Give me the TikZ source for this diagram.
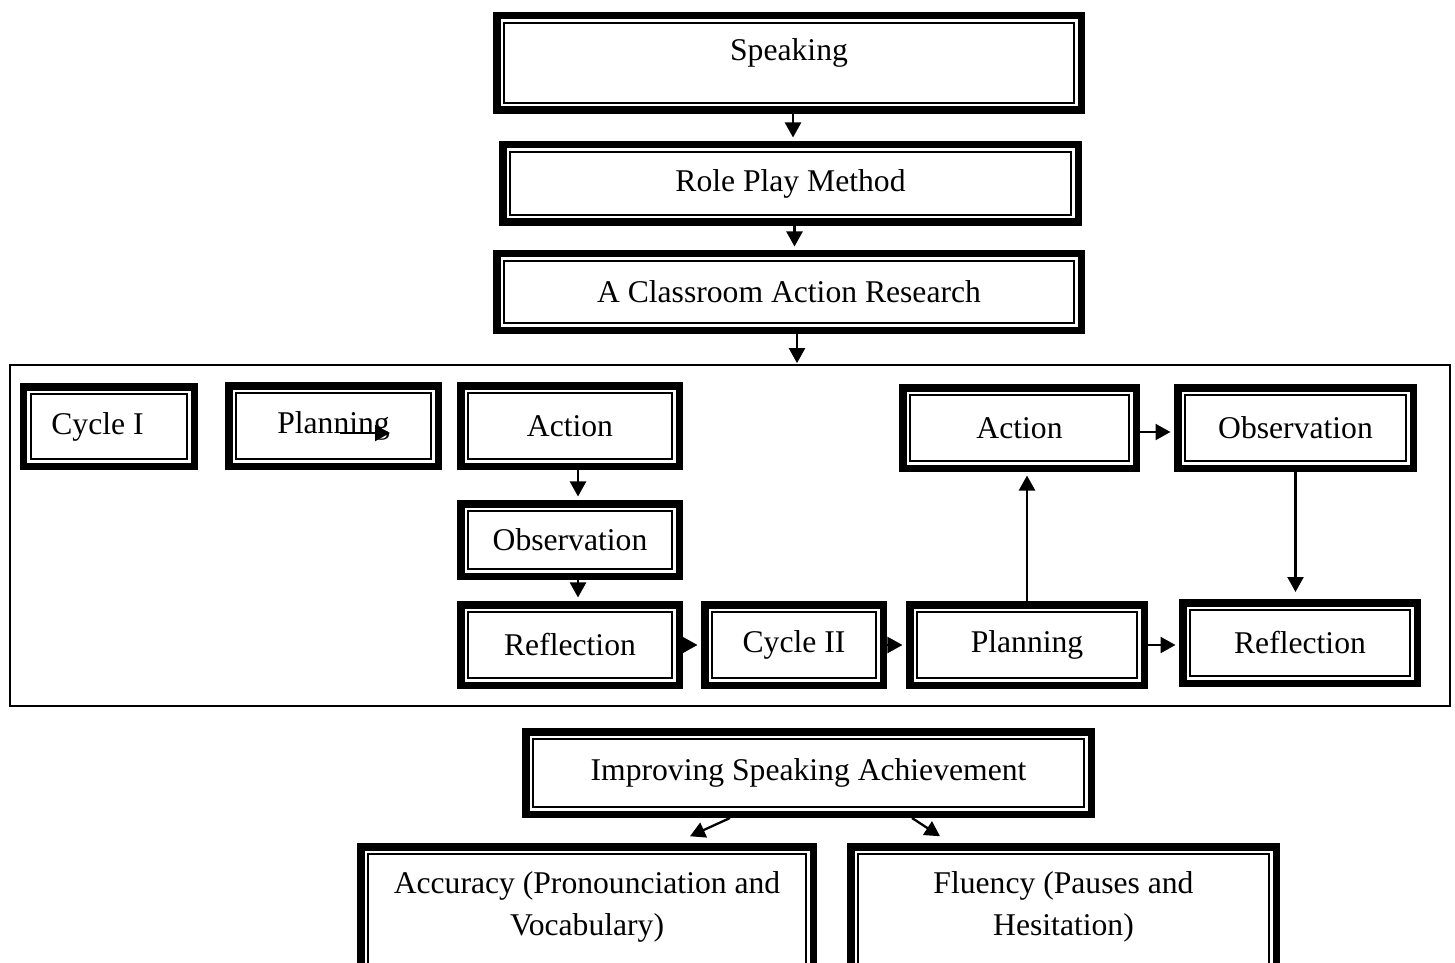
\documentclass[tikz,border=0pt]{standalone}
\usepackage{fontspec}
\setmainfont{Liberation Serif}
\usetikzlibrary{arrows.meta,calc,positioning}

\begin{document}
\begin{tikzpicture}
[-{Triangle[length=0.3cm,width=0.32cm]}, line width=1.3pt,
font=\fontsize{18}{24}\selectfont,
dbox/.style={draw, line width=0.15cm, inner sep=0pt,
path picture={\draw[-,line width=1.1pt]
($(path picture bounding box.south west)+(0.15cm,0.15cm)$) rectangle
($(path picture bounding box.north east)+(-0.15cm,-0.15cm)$);}},
wide/.style={dbox, minimum width=11.69cm, minimum height=#1},
step box/.style={dbox, minimum width=#1, minimum height=1.61cm}]
\path[use as bounding box, clip] (0,0) rectangle (29.1,-19.26);

\node (speak) at (15.78,-1.26) [wide=1.89cm, text depth=15.5pt] {Speaking};
\node (role) at (15.81,-3.67) [wide=1.55cm, minimum width=11.51cm] {Role Play Method};
\node (class) at (15.78,-5.84) [wide=1.53cm] {A Classroom Action Research};

\node (cycles) at (14.6,-10.71) [draw, -, line width=1.1pt, minimum width=28.8cm, minimum height=6.82cm] {};

\node (cyc1) at (2.18,-8.53) [step box=3.41cm, minimum height=1.59cm] {Cycle I\hspace*{0.46cm}};
\node (plan1) at (6.67,-8.52) [step box=4.19cm] {Planning};
\node (act1) at (11.40,-8.52) [step box=4.37cm] {Action};
\node (obs1) at (11.40,-10.80) [step box=4.37cm, minimum height=1.45cm] {Observation};
\node (refl1) at (11.40,-12.90) [step box=4.37cm] {Reflection};
\node (cyc2) at (15.88,-12.90) [step box=3.57cm] {Cycle II};
\node (plan2) at (20.54,-12.90) [step box=4.69cm] {Planning};
\node (act2) at (20.39,-8.56) [step box=4.67cm] {Action};
\node (obs2) at (25.91,-8.56) [step box=4.71cm] {Observation};
\node (refl2) at (26.00,-12.86) [step box=4.69cm] {Reflection};

\node (improve) at (16.17,-15.46) [wide=1.65cm, minimum width=11.31cm] {Improving Speaking Achievement};
\node (acc) at (11.74,-18.53) [dbox, minimum width=9.05cm, minimum height=3.19cm] {};
\node (acctext) at (11.74,-18.14) [align=center] {Accuracy (Pronounciation and\\Vocabulary)};
\node (flu) at (21.27,-18.53) [dbox, minimum width=8.51cm, minimum height=3.19cm] {};
\node (flutext) at (21.27,-18.14) [align=center] {Fluency (Pauses and\\Hesitation)};

\draw[shorten >=2pt] ([xshift=0.08cm]speak.south) -- ([xshift=0.08cm]speak.south |- role.north);
\draw[shorten >=2pt] ([xshift=0.08cm]role.south) -- ([xshift=0.08cm]role.south |- class.north);
\draw[shorten >=0.5pt] ([xshift=0.16cm]class.south) -- ([xshift=0.16cm]class.south |- cycles.north);

\draw ([shift={(0.13,-0.14)}]plan1.center) -- ([shift={(1.13,-0.14)}]plan1.center);
\draw[shorten >=2pt] ([xshift=0.16cm]act1.south) -- ([xshift=0.16cm]act1.south |- obs1.north);
\draw[shorten >=2pt] ([xshift=0.16cm]obs1.south) -- ([xshift=0.16cm]obs1.south |- refl1.north);
\draw[shorten >=2pt] (refl1.east) -- (cyc2.west);
\draw[shorten >=2pt] (cyc2.east) -- (plan2.west);
\draw[shorten >=2pt] (plan2.north) -- (plan2.north |- act2.south);
\draw[shorten >=2pt] ([yshift=-0.08cm]act2.east) -- ([yshift=-0.08cm]act2.east -| obs2.west);
\draw[shorten >=0.14cm] (obs2.south) -- (obs2.south |- refl2.north);
\draw[shorten >=2pt] (plan2.east) -- (plan2.east -| refl2.west);

\draw ($(improve.south)+(-1.57,0)$) -- ($(acc.north)+(2.06,0.135)$);
\draw ($(improve.south)+(2.07,0)$) -- ($(flu.north)+(-2.47,0.135)$);

\end{tikzpicture}
\end{document}
